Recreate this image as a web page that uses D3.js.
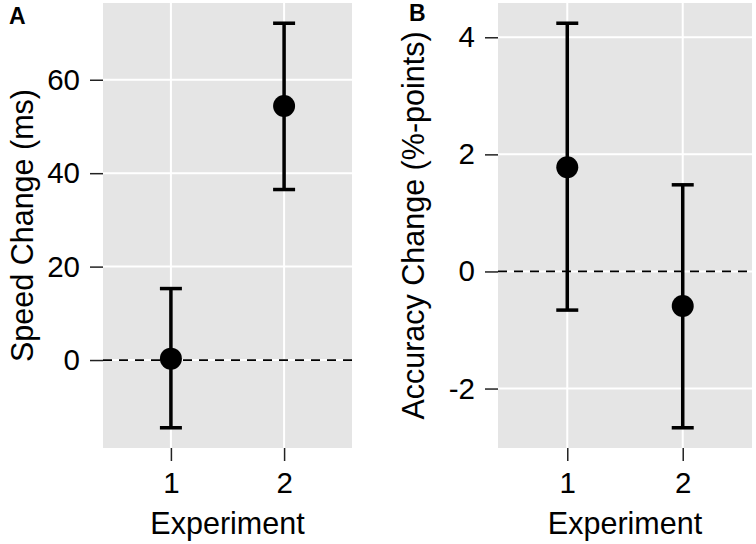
<!DOCTYPE html>
<html>
<head>
<meta charset="utf-8">
<script src="https://cdn.jsdelivr.net/npm/d3@7"></script>
<style>
  body { margin: 0; background: #fff; }
  svg { display: block; font-family: "Liberation Sans", Arial, sans-serif; }
</style>
</head>
<body>
<div id="chart-area"></div>
<script>
// data
const experiments = ['1', '2']

const speedMean = [0.3, 54.4]
const speedLower = [-14.5, 36.5]
const speedUpper = [15.3, 72.1]
const speedTicks = [0, 20, 40, 60]

const accMean = [1.78, -0.59]
const accLower = [-0.66, -2.67]
const accUpper = [4.24, 1.48]
const accTicks = [-2, 0, 2, 4]

const canvas = { width: 756, height: 544 }

const svg = d3.select('#chart-area')
    .append('svg')
    .attr('width', canvas.width)
    .attr('height', canvas.height)

function panel(opts) {
    const { left, right, top, bottom, mean, lower, upper, ticks, title, tag, tagX, tagY } = opts

    const rows = experiments.map((e, i) => ({ exp: e, mean: mean[i], lo: lower[i], hi: upper[i] }))

    // x-scale (discrete, ggplot-like 0.6 expansion)
    const x = d3.scalePoint()
        .domain(experiments)
        .range([left, right])
        .padding(0.6)

    // y-scale with 5% expansion
    const lo = d3.min(rows, d => d.lo), hi = d3.max(rows, d => d.hi)
    const pad = (hi - lo) * 0.05
    const y = d3.scaleLinear()
        .domain([lo - pad, hi + pad])
        .range([bottom, top])

    const g = svg.append('g')

    g.append('rect')
        .attr('x', left).attr('y', top)
        .attr('width', right - left).attr('height', bottom - top)
        .attr('fill', '#e5e5e5')

    // grid
    g.selectAll('.hgrid').data(ticks).enter().append('line')
        .attr('x1', left).attr('x2', right)
        .attr('y1', d => y(d)).attr('y2', d => y(d))
        .attr('stroke', '#fff').attr('stroke-width', 2)
    g.selectAll('.vgrid').data(experiments).enter().append('line')
        .attr('x1', d => x(d)).attr('x2', d => x(d))
        .attr('y1', top).attr('y2', bottom)
        .attr('stroke', '#fff').attr('stroke-width', 2)

    // y-axis (plain hyphen for negatives, as in the figure)
    const yAxis = g.append('g')
        .attr('transform', `translate(${left},0)`)
        .call(d3.axisLeft(y).tickValues(ticks).tickSize(13).tickPadding(10)
            .tickFormat(d => String(d)))
    yAxis.select('.domain').remove()
    yAxis.selectAll('line').attr('stroke', '#222').attr('stroke-width', 1.5)
    yAxis.selectAll('text').attr('font-size', 29.5).attr('fill', '#000')
        .attr('font-family', '"Liberation Sans", Arial, sans-serif')

    // x-axis
    const xAxis = g.append('g')
        .attr('transform', `translate(0,${bottom})`)
        .call(d3.axisBottom(x).tickSize(13).tickPadding(11))
    xAxis.select('.domain').remove()
    xAxis.selectAll('line').attr('stroke', '#222').attr('stroke-width', 1.5)
    xAxis.selectAll('text').attr('font-size', 29.5).attr('fill', '#000')
        .attr('font-family', '"Liberation Sans", Arial, sans-serif')

    // zero line
    g.append('line')
        .attr('x1', left).attr('x2', right)
        .attr('y1', y(0)).attr('y2', y(0))
        .attr('stroke', '#000').attr('stroke-width', 1.8)
        .attr('stroke-dasharray', '9,7')

    // error bars
    g.selectAll('.stem').data(rows).enter().append('line')
        .attr('x1', d => x(d.exp)).attr('x2', d => x(d.exp))
        .attr('y1', d => y(d.lo)).attr('y2', d => y(d.hi))
        .attr('stroke', '#000').attr('stroke-width', 3.5)
    g.selectAll('.capHi').data(rows).enter().append('line')
        .attr('x1', d => x(d.exp) - 11).attr('x2', d => x(d.exp) + 11)
        .attr('y1', d => y(d.hi)).attr('y2', d => y(d.hi))
        .attr('stroke', '#000').attr('stroke-width', 3.5)
    g.selectAll('.capLo').data(rows).enter().append('line')
        .attr('x1', d => x(d.exp) - 11).attr('x2', d => x(d.exp) + 11)
        .attr('y1', d => y(d.lo)).attr('y2', d => y(d.lo))
        .attr('stroke', '#000').attr('stroke-width', 3.5)

    // points
    g.selectAll('circle').data(rows).enter().append('circle')
        .attr('cx', d => x(d.exp)).attr('cy', d => y(d.mean))
        .attr('r', 11).attr('fill', '#000')

    // axis titles
    g.append('text')
        .attr('x', (left + right) / 2).attr('y', 534)
        .attr('text-anchor', 'middle').attr('font-size', 30.5)
        .text('Experiment')
    g.append('text')
        .attr('transform', `translate(${opts.titleX},${(top + bottom) / 2}) rotate(-90)`)
        .attr('text-anchor', 'middle').attr('font-size', 30.5)
        .text(title)

    // panel tag
    g.append('text')
        .attr('x', tagX).attr('y', tagY)
        .style('font-size', '23px').style('font-weight', 'bold')
        .text(tag)
}

panel({ left: 103, right: 352, top: 3, bottom: 448,
    mean: speedMean, lower: speedLower, upper: speedUpper, ticks: speedTicks,
    title: 'Speed Change (ms)', titleX: 33, tag: 'A', tagX: 9, tagY: 24 })

panel({ left: 498, right: 752, top: 3, bottom: 448,
    mean: accMean, lower: accLower, upper: accUpper, ticks: accTicks,
    title: 'Accuracy Change (%-points)', titleX: 424, tag: 'B', tagX: 409, tagY: 21 })
</script>
</body>
</html>
